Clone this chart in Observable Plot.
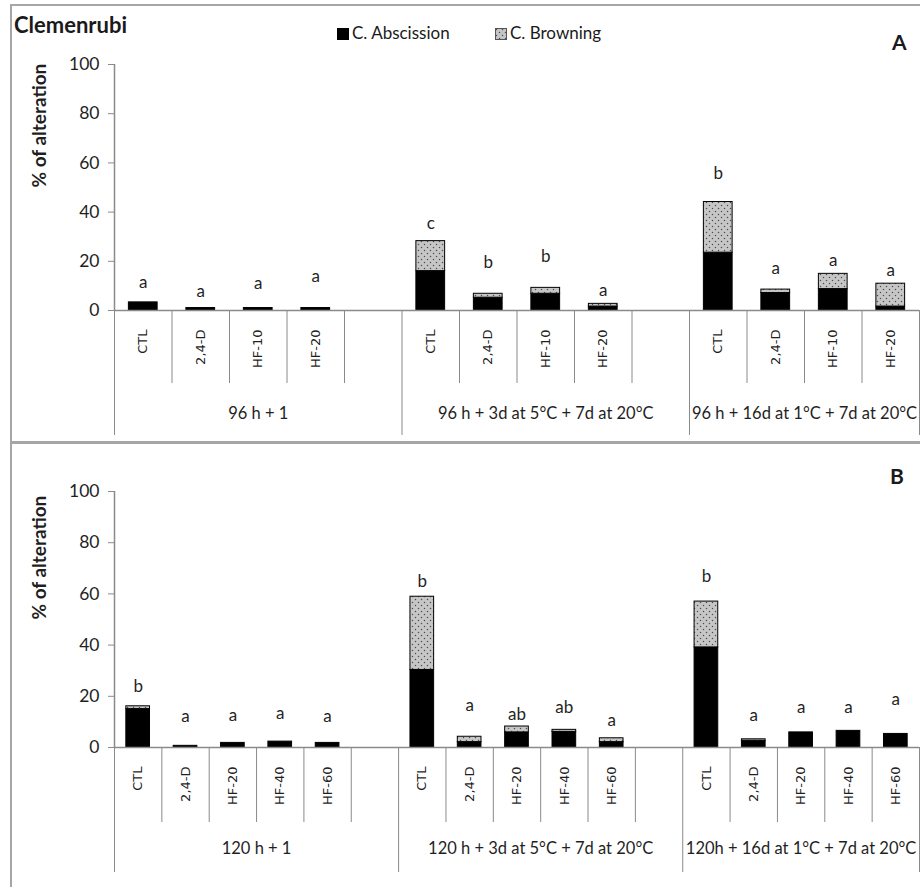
<!DOCTYPE html>
<html><head><meta charset="utf-8">
<script src="https://cdn.jsdelivr.net/npm/d3@7"></script>
<script src="https://cdn.jsdelivr.net/npm/@observablehq/plot@0.6"></script>
<style>
body{margin:0;background:#fff;}
#fig{position:relative;width:920px;height:887px;overflow:hidden;font-family:Lato,"Open Sans",sans-serif;color:#1a1a1a;}
.box{position:absolute;left:10px;width:914px;border:2px solid #a6a6a6;box-sizing:border-box;}
#fig svg.plot{position:absolute;left:0;}
#fig svg text{fill:#1f1f1f;}
.lbl{position:absolute;white-space:nowrap;}
.sw{display:inline-block;width:12px;height:12px;margin-right:3px;vertical-align:-1px;box-sizing:border-box;}
</style></head><body>
<svg width="0" height="0" style="position:absolute"><defs>
<pattern id="dots" width="6" height="6" patternUnits="userSpaceOnUse">
<rect width="6" height="6" fill="#c6c6c6"/>
<circle cx="1.5" cy="1.5" r="0.75" fill="#4d4d4d"/>
<circle cx="4.5" cy="4.5" r="0.75" fill="#4d4d4d"/>
</pattern></defs></svg>
<div id="fig"></div>
<script>
// ---------- data ----------
const title = "Clemenrubi";
const seriesNames = ["C. Abscission", "C. Browning"];
const yLabel = "% of alteration";
const yTicks = [0, 20, 40, 60, 80, 100];

// Panel A
const treatmentsA = ["CTL", "2,4-D", "HF-10", "HF-20"];
const groupsA = ["96 h + 1", "96 h + 3d at 5°C + 7d at 20°C", "96 h + 16d at 1°C + 7d at 20°C"];
const abscissionA = [[3.3, 1.0, 1.0, 1.0], [16.0, 5.2, 6.8, 1.6], [23.5, 7.1, 8.7, 1.6]];
const browningA   = [[0, 0, 0, 0], [12.2, 1.6, 2.4, 1.1], [20.6, 1.4, 6.2, 9.3]];
const lettersA    = [["a", "a", "a", "a"], ["c", "b", "b", "a"], ["b", "a", "a", "a"]];
const letterPosA  = [[11.4, 7.7, 11.1, 13.6], [35.3, 19.3, 22.0, 8.1], [55.6, 17.2, 20.4, 16.3]];

// Panel B
const treatmentsB = ["CTL", "2,4-D", "HF-20", "HF-40", "HF-60"];
const groupsB = ["120 h + 1", "120 h + 3d at 5°C + 7d at 20°C", "120h + 16d at 1°C + 7d at 20°C"];
const abscissionB = [[15.0, 0.65, 1.8, 2.3, 1.8], [30.3, 2.1, 5.9, 6.1, 2.1], [39.1, 2.6, 5.9, 6.5, 5.3]];
const browningB   = [[1.1, 0, 0, 0, 0], [28.6, 2.1, 2.3, 0.8, 1.5], [17.9, 0.6, 0, 0, 0]];
const lettersB    = [["b", "a", "a", "a", "a"], ["b", "a", "ab", "ab", "a"], ["b", "a", "a", "a", "a"]];
const letterPosB  = [[23.7, 12.1, 12.6, 13.3, 12.1], [64.8, 16.3, 12.8, 15.6, 10.7], [66.8, 12.4, 15.6, 15.6, 18.6]];

// ---------- build ----------
function panel(cfg) {
  const {treatments, groups, abscission, browning, letters, letterPos} = cfg;
  const nT = treatments.length, nG = groups.length;
  const nSlots = nG * (nT + 1) - 1;
  const rows = [];
  groups.forEach((g, gi) => treatments.forEach((t, ti) => {
    const slot = gi * (nT + 1) + ti;
    const a = abscission[gi][ti], b = browning[gi][ti];
    rows.push({slot, t, abs: a, brown: b, total: a + b, letter: letters[gi][ti], ly: letterPos[gi][ti]});
  }));
  const groupRows = groups.map((g, gi) => {
    const start = gi * (nT + 1), end = gi < nG - 1 ? start + nT + 1 : nSlots;
    return {g, c: (start + end) / 2};
  });
  const bounds = d3.range(nSlots + 1);
  const isLong = k => k === 0 || k === nSlots || k % (nT + 1) === 0;
  return Plot.plot({
    width: 920, height: cfg.height,
    marginLeft: 114, marginRight: 1, marginTop: cfg.marginTop, marginBottom: cfg.marginBottom,
    x: {domain: [0, nSlots], axis: null},
    y: {domain: [0, 100], ticks: yTicks, tickSize: 6, tickPadding: 9, label: null},
    style: {color: "#8a8a8a", background: "transparent", fontFamily: "Lato", fontSize: "17.5px", overflow: "visible", top: cfg.top + "px"},
    marks: [
      Plot.rect(rows, {x1: d => d.slot + 0.25, x2: d => d.slot + 0.75, y1: 0, y2: "abs", fill: "#000", stroke: "#000", strokeWidth: 1}),
      Plot.rect(rows.filter(d => d.brown > 0), {x1: d => d.slot + 0.25, x2: d => d.slot + 0.75, y1: "abs", y2: "total", fill: "url(#dots)", stroke: "#000", strokeWidth: 1}),
      Plot.ruleY([0], {stroke: "#8a8a8a", strokeWidth: 1.5}),
      Plot.ruleX([0], {y1: 0, y2: 100, stroke: "#8a8a8a", strokeWidth: 1.5}),
      Plot.ruleX(bounds.filter(k => !isLong(k)), {x: d => d, y1: 0, y2: 0, insetBottom: -cfg.divLen, stroke: "#8a8a8a", strokeWidth: 1}),
      Plot.ruleX(bounds.filter(isLong), {x: d => d, y1: 0, y2: 0, insetBottom: -cfg.grpLen, stroke: "#8a8a8a", strokeWidth: 1}),
      Plot.text(rows, {x: d => d.slot + 0.5, y: 0, text: "t", rotate: -90, textAnchor: "end", dy: 19, fontFamily: "DejaVu Sans", fontSize: 13}),
      Plot.text(groupRows, {x: "c", y: 0, text: "g", dy: cfg.grpDy, fontSize: 16.5}),
      Plot.text(rows, {x: d => d.slot + 0.5, y: "ly", text: "letter", fontSize: 17}),
      Plot.text([yLabel], {frameAnchor: "left", dx: -75, rotate: -90, fontWeight: "bold", fontSize: 19})
    ]
  });
}

const fig = document.getElementById("fig");
const boxA = document.createElement("div"); boxA.className = "box";
boxA.style.top = "4px"; boxA.style.height = "440px"; fig.appendChild(boxA);
const boxB = document.createElement("div"); boxB.className = "box";
boxB.style.top = "441px"; boxB.style.height = "460px"; fig.appendChild(boxB);

fig.appendChild(panel({treatments: treatmentsA, groups: groupsA, abscission: abscissionA, browning: browningA,
  letters: lettersA, letterPos: letterPosA, top: 0, height: 442, marginTop: 64, marginBottom: 132,
  divLen: 73, grpLen: 125, grpDy: 103}));
fig.appendChild(panel({treatments: treatmentsB, groups: groupsB, abscission: abscissionB, browning: browningB,
  letters: lettersB, letterPos: letterPosB, top: 442, height: 445, marginTop: 49, marginBottom: 140,
  divLen: 75, grpLen: 125, grpDy: 101}));

function addLabel(html, css) {
  const d = document.createElement("div"); d.className = "lbl"; d.innerHTML = html;
  Object.assign(d.style, css); fig.appendChild(d); return d;
}
addLabel(title, {left: "14px", top: "11px", fontSize: "22px", fontWeight: "bold"});
addLabel(`<span class="sw" style="background:#000"></span>${seriesNames[0]}`, {left: "337px", top: "22px", fontSize: "17px"});
addLabel(`<svg width="12" height="12" style="margin-right:3px;vertical-align:-1px"><rect x="0.5" y="0.5" width="11" height="11" fill="url(#dots)" stroke="#555"/></svg>${seriesNames[1]}`, {left: "495px", top: "22px", fontSize: "17px"});
addLabel("A", {left: "892px", top: "29px", fontSize: "21px", fontWeight: "bold"});
addLabel("B", {left: "890px", top: "463px", fontSize: "21px", fontWeight: "bold"});
</script>
</body></html>
